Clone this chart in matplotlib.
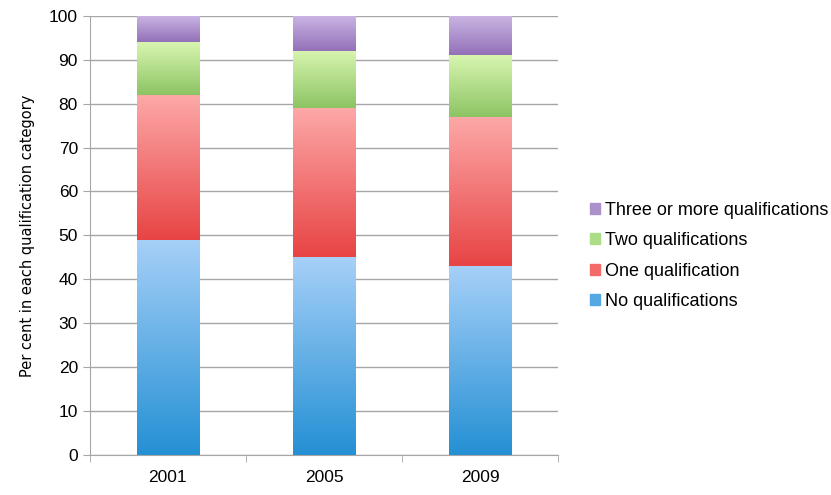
import numpy as np
import matplotlib.pyplot as plt
from matplotlib.colors import LinearSegmentedColormap
from matplotlib.patches import Patch

plt.rcParams['font.family'] = ['Liberation Sans', 'DejaVu Sans']

years = ['2001', '2005', '2009']
series_names = ['No qualifications', 'One qualification', 'Two qualifications', 'Three or more qualifications']
no_qual = [49, 45, 43]
one_qual = [33, 34, 34]
two_qual = [12, 13, 14]
three_qual = [6, 8, 9]

# (bottom colour, top colour) for the gradient in each segment
grad_colors = [('#2490d4', '#a6d0f8'),
               ('#e84444', '#fda8a8'),
               ('#8cc463', '#d8f5b0'),
               ('#9370b8', '#cbb6e4')]
legend_colors = ['#55a8e4', '#f46a6a', '#addc86', '#ab90cc']

fig = plt.figure(figsize=(8.31, 4.95), dpi=100)
ax = fig.add_axes([0.108, 0.081, 0.564, 0.887])

x = np.arange(len(years))
bottoms = np.zeros(len(years))
grad = np.linspace(0, 1, 256).reshape(-1, 1)
for vals, (c0, c1), name in zip([no_qual, one_qual, two_qual, three_qual], grad_colors, series_names):
    bars = ax.bar(x, vals, 0.4, bottom=bottoms, color='none', edgecolor='none', zorder=2)
    cmap = LinearSegmentedColormap.from_list(name, [c0, c1])
    for b in bars:
        x0, y0 = b.get_x(), b.get_y()
        im = ax.imshow(grad, extent=[x0, x0 + b.get_width(), y0, y0 + b.get_height()],
                       origin='lower', cmap=cmap, aspect='auto', zorder=2)
        im.set_clip_path(b)
    bottoms += np.array(vals)

ax.set_xlim(-0.5, 2.5)
ax.set_ylim(0, 100)
ax.set_yticks(range(0, 101, 10))
ax.yaxis.grid(True, color='#a6a6a6', linewidth=1)
ax.set_axisbelow(True)
ax.set_xticks(x)
ax.set_xticklabels(years, fontsize=12.5)
ax.set_xticks([-0.5, 0.5, 1.5, 2.5], minor=True)
ax.tick_params(axis='x', which='major', length=0, pad=11)
ax.tick_params(axis='x', which='minor', length=5, color='#a6a6a6')
ax.tick_params(axis='y', length=5, color='#a6a6a6', labelsize=12.5)
for s in ['top', 'right']:
    ax.spines[s].set_visible(False)
ax.spines['left'].set_color('#a6a6a6')
ax.spines['bottom'].set_color('#a6a6a6')
ax.set_ylabel('Per cent in each qualification category', fontsize=10.5, labelpad=10,
              family=['DejaVu Sans'])

handles = [Patch(color=c) for c in legend_colors[::-1]]
fig.legend(handles, series_names[::-1], loc='center left', bbox_to_anchor=(0.69, 0.483),
           frameon=False, fontsize=13, handlelength=0.55, handleheight=0.55,
           handletextpad=0.3, labelspacing=0.75)

fig.savefig('out.png', dpi=100)
